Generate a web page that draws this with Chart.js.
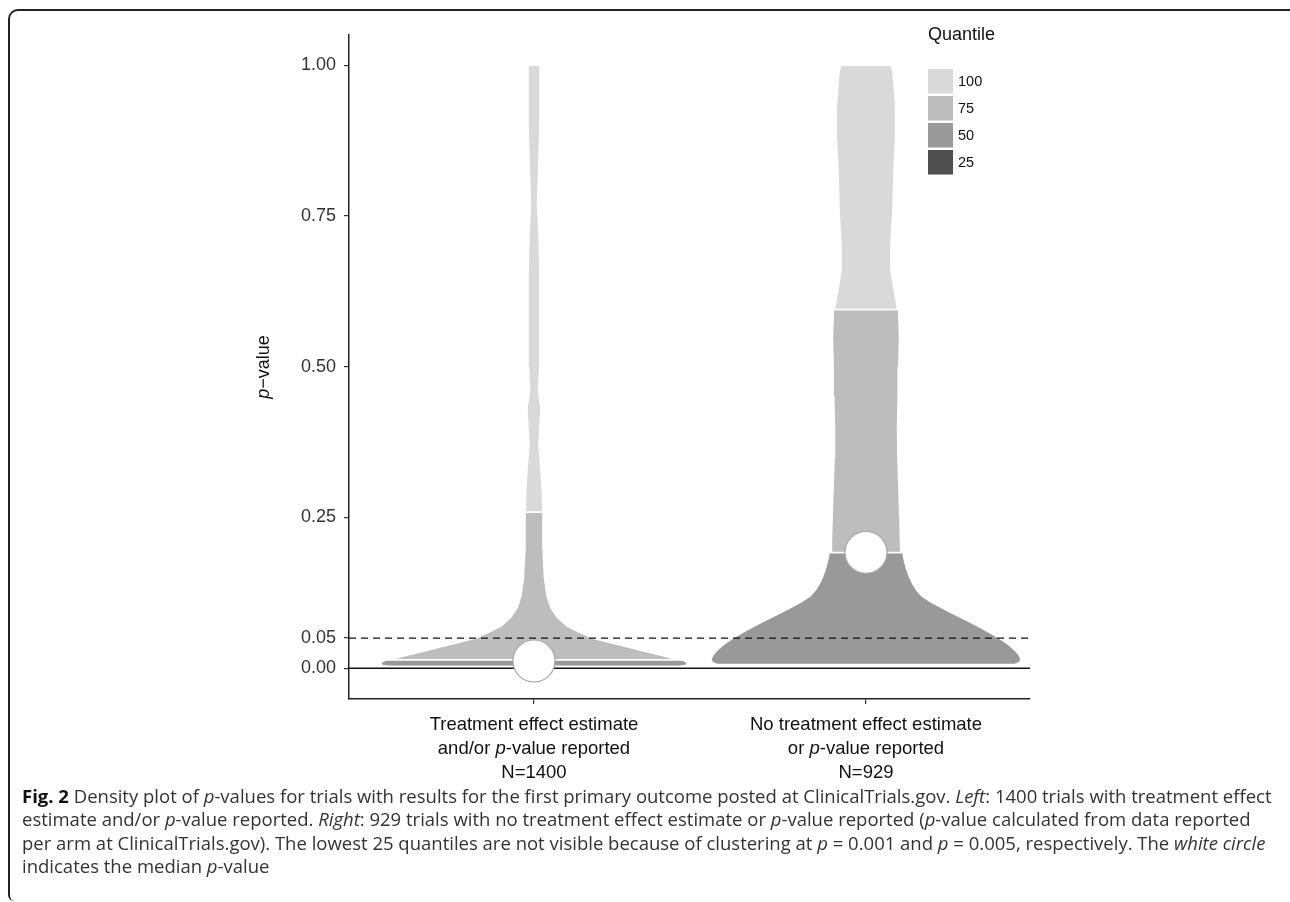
<!DOCTYPE html>
<html>
<head>
<meta charset="utf-8">
<script src="https://cdn.jsdelivr.net/npm/chart.js@4.4.0/dist/chart.umd.min.js"></script>
<style>
body { margin:0; background:#fff; width:1290px; height:902px; overflow:hidden; position:relative; }
#frame { position:absolute; left:8px; top:9px; width:1300px; height:890px; border-top:2px solid #222; border-left:2px solid #222; border-top-left-radius:10px; border-bottom-left-radius:6px; }
#chart { position:absolute; left:0; top:0; }
#caption { position:absolute; left:22px; top:784px; font-family:'Open Sans', sans-serif; font-size:18.5px; line-height:23.3px; color:#333; white-space:nowrap; }
#caption b { color:#111; }
</style>
</head>
<body>
<div id="frame"></div>
<canvas id="chart" width="1290" height="790"></canvas>
<div id="caption">
<div><b>Fig. 2</b> Density plot of <i>p</i>-values for trials with results for the first primary outcome posted at ClinicalTrials.gov. <i>Left</i>: 1400 trials with treatment effect</div>
<div>estimate and/or <i>p</i>-value reported. <i>Right</i>: 929 trials with no treatment effect estimate or <i>p</i>-value reported (<i>p</i>-value calculated from data reported</div>
<div>per arm at ClinicalTrials.gov). The lowest 25 quantiles are not visible because of clustering at <i>p</i> = 0.001 and <i>p</i> = 0.005, respectively. The <i>white circle</i></div>
<div>indicates the median <i>p</i>-value</div>
</div>
<script>
// category labels (*...* = italic)
const categoryLabels = [
  ['Treatment effect estimate', 'and/or *p*-value reported', 'N=1400'],
  ['No treatment effect estimate', 'or *p*-value reported', 'N=929']
];
const yTicks = [0, 0.05, 0.25, 0.5, 0.75, 1];
const quantiles = ['100', '75', '50', '25'];
const quantileColors = ['#d9d9d9', '#bdbdbd', '#999999', '#4f4f4f'];

// left violin: p-value levels and half widths (x units)
const leftQ100P = [1.00, 0.97, 0.90, 0.82, 0.77, 0.72, 0.65, 0.58, 0.50, 0.46, 0.43, 0.40, 0.37, 0.33, 0.29, 0.259];
const leftQ100W = [0.018, 0.018, 0.018, 0.0136, 0.0105, 0.015, 0.018, 0.018, 0.0166, 0.0136, 0.021, 0.018, 0.015, 0.021, 0.0256, 0.027];
const leftQ75P = [0.259, 0.20, 0.15, 0.12, 0.10, 0.085, 0.07, 0.06, 0.05, 0.04, 0.03, 0.02, 0.014];
const leftQ75W = [0.027, 0.027, 0.0316, 0.0392, 0.0512, 0.0693, 0.0994, 0.1355, 0.1747, 0.247, 0.322, 0.395, 0.431];
const leftQ50P = [0.014, 0.0118, 0.009, 0.006, 0.0045, 0.0035];
const leftQ50W = [0.44, 0.455, 0.461, 0.461, 0.455, 0.44];

// right violin
const rightQ100P = [1.00, 0.99, 0.97, 0.93, 0.88, 0.82, 0.76, 0.70, 0.66, 0.63, 0.595];
const rightQ100W = [0.075, 0.081, 0.084, 0.090, 0.089, 0.084, 0.081, 0.075, 0.075, 0.084, 0.095];
const rightQ75P = [0.595, 0.55, 0.50, 0.45, 0.40, 0.35, 0.30, 0.25, 0.21, 0.192];
const rightQ75W = [0.098, 0.101, 0.099, 0.097, 0.095, 0.096, 0.099, 0.102, 0.104, 0.105];
const rightQ50P = [0.192, 0.18, 0.165, 0.15, 0.14, 0.13, 0.12, 0.11, 0.10, 0.09, 0.08, 0.07, 0.06, 0.05, 0.04, 0.03, 0.022, 0.015, 0.010, 0.0075, 0.006];
const rightQ50W = [0.111, 0.115, 0.122, 0.132, 0.141, 0.152, 0.168, 0.195, 0.229, 0.265, 0.302, 0.337, 0.370, 0.401, 0.428, 0.449, 0.461, 0.467, 0.463, 0.455, 0.444];

const medianP = [0.012, 0.192];
const xMin = 0.4428, xMax = 2.494;

function violinShape(center, ps, ws) {
  const right = ps.map((p, i) => ({x: center + ws[i], y: p}));
  const left = ps.map((p, i) => ({x: center - ws[i], y: p})).reverse();
  const pts = right.concat(left);
  pts.push(pts[0]);
  return pts;
}

function region(center, ps, ws, colorIdx) {
  return {
    data: violinShape(center, ps, ws),
    showLine: true,
    fill: 'shape',
    backgroundColor: quantileColors[colorIdx],
    borderColor: '#ffffff',
    borderWidth: 1.5,
    pointRadius: 0,
    order: 3
  };
}

const datasets = [
  {
    data: medianP.map((p, i) => ({x: i + 1, y: p})),
    showLine: false,
    pointRadius: 21,
    pointBackgroundColor: '#ffffff',
    pointBorderColor: '#a8a8a8',
    pointBorderWidth: 1.2,
    order: 0
  },
  {
    data: [{x: xMin, y: 0.05}, {x: xMax, y: 0.05}],
    showLine: true, borderColor: '#111', borderWidth: 1.3, borderDash: [7, 5], pointRadius: 0, fill: false, order: 1
  },
  {
    data: [{x: xMin, y: 0}, {x: xMax, y: 0}],
    showLine: true, borderColor: '#111', borderWidth: 1.3, pointRadius: 0, fill: false, order: 1
  },
  region(1, leftQ100P, leftQ100W, 0),
  region(1, leftQ75P, leftQ75W, 1),
  region(1, leftQ50P, leftQ50W, 2),
  region(2, rightQ100P, rightQ100W, 0),
  region(2, rightQ75P, rightQ75W, 1),
  region(2, rightQ50P, rightQ50W, 2)
];

const FONT = "'Liberation Sans', Arial, sans-serif";

function drawMixed(ctx, text, x, y, size, family) {
  const parts = text.split('*');
  let total = 0;
  const widths = parts.map((t, i) => {
    ctx.font = (i % 2 ? 'italic ' : '') + size + 'px ' + family;
    const w = ctx.measureText(t).width;
    total += w;
    return w;
  });
  let cx = x - total / 2;
  ctx.textAlign = 'left';
  parts.forEach((t, i) => {
    ctx.font = (i % 2 ? 'italic ' : '') + size + 'px ' + family;
    ctx.fillText(t, cx, y);
    cx += widths[i];
  });
}

const extras = {
  id: 'extras',
  afterDraw(chart) {
    const ctx = chart.ctx;
    const xs = chart.scales.x;
    const area = chart.chartArea;
    ctx.save();
    ctx.fillStyle = '#111';
    ctx.textBaseline = 'middle';
    // x category labels
    categoryLabels.forEach((lines, i) => {
      const cx = xs.getPixelForValue(i + 1);
      lines.forEach((ln, j) => {
        drawMixed(ctx, ln, cx, area.bottom + 26 + j * 24, 18.5, FONT);
      });
    });
    // y title
    ctx.save();
    ctx.translate(264, (area.top + area.bottom) / 2);
    ctx.rotate(-Math.PI / 2);
    drawMixed(ctx, '*p*\u2212value', 0, 0, 18, FONT);
    ctx.restore();
    // legend
    const lx = area.right - 102;
    ctx.font = '18px ' + FONT;
    ctx.textAlign = 'left';
    ctx.fillText('Quantile', lx, 35);
    quantiles.forEach((q, i) => {
      const ty = 69 + i * 27;
      ctx.fillStyle = quantileColors[i];
      ctx.fillRect(lx, ty, 25, 24.5);
      ctx.fillStyle = '#111';
      ctx.font = '14.5px ' + FONT;
      ctx.fillText(q, lx + 30, ty + 12.5);
    });
    ctx.restore();
  }
};

new Chart(document.getElementById('chart'), {
  type: 'scatter',
  data: {datasets: datasets},
  options: {
    responsive: false,
    animation: false,
    layout: {padding: {left: 0, top: 35, right: 260, bottom: 0}},
    plugins: {legend: {display: false}, tooltip: {enabled: false}},
    scales: {
      x: {
        type: 'linear', min: xMin, max: xMax,
        afterBuildTicks: s => { s.ticks = [{value: 1}, {value: 2}]; },
        afterFit: s => { s.height = 91; },
        ticks: {display: false},
        grid: {drawOnChartArea: false, tickLength: 5, color: '#333', lineWidth: 1.2},
        border: {color: '#222', width: 1.5}
      },
      y: {
        type: 'linear', min: -0.051, max: 1.05,
        afterBuildTicks: s => { s.ticks = yTicks.map(v => ({value: v})); },
        afterFit: s => { s.width = 349; },
        ticks: {
          callback: v => v.toFixed(2),
          font: {family: FONT, size: 18},
          color: '#333', padding: 8
        },
        grid: {drawOnChartArea: false, tickLength: 5, color: '#333', lineWidth: 1.2},
        border: {color: '#222', width: 1.5}
      }
    }
  },
  plugins: [extras]
});
</script>
</body>
</html>
